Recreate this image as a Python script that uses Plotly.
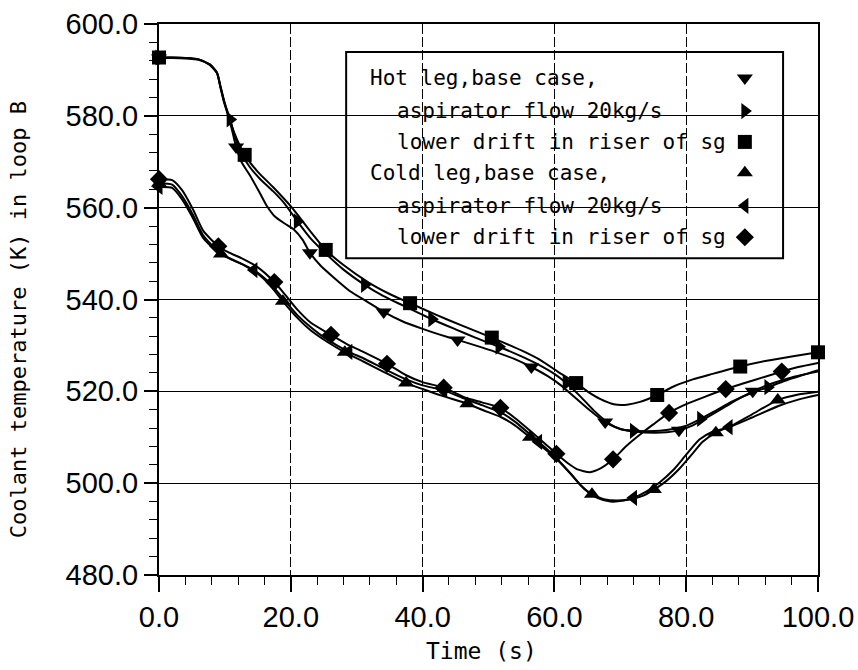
import plotly.graph_objects as go

# ---- Hot leg, base case (down triangles)
hb_t = [0, 2, 4, 6, 7.7, 8.8, 9.3, 9.9, 10.5, 11.1, 11.7, 12.5, 13.9, 15.3, 16.4, 17.5, 19, 20.5, 21.8, 22.9,
        24.5, 26.5, 29, 31.5, 34.1, 37, 40, 42.5, 45.3, 48, 51, 54, 56.5, 59, 61, 63, 65, 67.7, 70, 72.5,
        75, 77, 78.9, 81, 83.5, 86, 88, 90.1, 93, 96, 100]
hb_T = [592.6, 592.6, 592.5, 592.2, 591.1, 589.3, 586.3, 582.8, 580.0, 576.8, 573.2, 570.0, 566.8, 563.2, 560.3,
        558.2, 556.6, 555.2, 553.0, 550.2, 547.4, 544.8, 541.8, 539.6, 537.3, 535.2, 533.6, 532.4, 531.2, 530.0,
        528.6, 527.0, 525.3, 523.3, 521.3, 518.8, 516.3, 513.3, 511.8, 511.2, 511.0, 511.1, 511.5, 512.6, 514.6,
        516.7, 518.4, 520.0, 521.7, 523.0, 524.3]
hb_marks = [0, 11.7, 22.9, 34.1, 45.3, 56.5, 67.7, 78.9, 90.1]

# ---- Hot leg, aspirator flow 20 kg/s (right triangles)
ha_t = [0, 2, 4, 6, 7.7, 8.8, 9.3, 9.9, 10.8, 11.5, 12.5, 13.8, 15.3, 17.3, 19, 21.0, 23, 25.3, 28, 31.2,
        34, 37, 41.4, 45, 48, 51.6, 55, 58, 60, 61.8, 64, 66, 68.5, 70, 72.0, 74, 76, 78, 80, 82.2,
        84.5, 87, 90, 92.4, 95, 100]
ha_T = [592.7, 592.7, 592.6, 592.3, 591.2, 589.4, 586.5, 583.0, 579.2, 575.5, 571.8, 568.8, 566.3, 563.6, 561.0,
        557.0, 553.3, 550.0, 546.5, 543.2, 540.8, 538.7, 535.7, 533.5, 531.7, 529.7, 527.6, 525.5, 523.8, 521.8,
        518.8, 515.8, 512.8, 511.8, 511.4, 511.3, 511.4, 511.8, 512.5, 514.0, 515.8, 517.8, 519.7, 520.9, 522.3,
        524.6]
ha_marks = [0, 10.8, 21.0, 31.2, 41.4, 51.6, 61.8, 72.0, 82.2, 92.4]

# ---- Hot leg, lower drift in riser of sg (squares)
hl_t = [0, 2, 4, 6, 7.7, 8.8, 9.3, 9.9, 10.5, 11.5, 13.0, 15, 17.3, 20.3, 23, 25.3, 28, 31.7, 35, 38.1,
        42, 46, 50.5, 55, 58, 60.5, 63.3, 65, 67, 69, 71, 73, 75.6, 78, 81, 84, 88.2, 92, 96, 100]
hl_T = [592.7, 592.7, 592.6, 592.3, 591.2, 589.4, 586.6, 583.2, 580.3, 576.0, 571.5, 567.8, 564.5, 559.8, 554.8,
        550.8, 547.5, 543.8, 541.2, 539.2, 536.7, 534.3, 531.7, 528.9, 526.7, 524.3, 521.8, 520.0, 518.3, 517.2,
        517.1, 517.7, 519.2, 521.0, 522.6, 523.8, 525.4, 526.6, 527.6, 528.5]
hl_marks = [0, 13.0, 25.3, 38.1, 50.5, 63.3, 75.6, 88.2, 100]

# ---- Cold leg, base case (up triangles)
cb_t = [0, 2, 3.5, 5.2, 6.7, 9.4, 11, 13, 15, 16.8, 18.8, 21, 23, 25.5, 28.2, 31, 34, 37.5, 40, 43,
        46.8, 49, 52, 54, 56.3, 58.5, 60.5, 62.5, 64, 65.7, 67.5, 69.5, 71.5, 73.5, 75.1, 77, 79, 81, 82.5, 84.5,
        87, 90, 93.9, 97, 100]
cb_T = [565.3, 565.0, 562.5, 558.3, 554.0, 549.9, 548.7, 547.4, 545.6, 543.2, 539.6, 536.0, 533.3, 530.8, 528.5,
        526.5, 524.3, 521.8, 520.5, 519.0, 517.3, 516.0, 514.3, 512.6, 510.0, 507.5, 505.0, 502.0, 499.5, 497.6,
        496.5, 496.2, 496.5, 497.3, 498.6, 500.5, 503.2, 506.5, 509.0, 511.0, 512.6, 515.0, 518.1, 519.3, 519.9]
cb_marks = [0, 9.4, 18.8, 28.2, 37.5, 46.8, 56.3, 65.7, 75.1, 84.5, 93.9]

# ---- Cold leg, aspirator flow 20 kg/s (left triangles)
ca_t = [0, 2, 3.5, 5.2, 6.7, 9, 11, 14.4, 16.8, 18.8, 21, 23, 25.5, 28.8, 31, 34, 37.5, 40, 43.2, 46.5,
        49, 52, 54, 57.6, 60, 62.5, 64.5, 66.5, 68.5, 70.5, 72.0, 74, 76, 78, 80, 82, 84, 86.5, 90, 94,
        97, 100]
ca_T = [564.5, 564.3, 561.8, 557.6, 553.4, 550.2, 548.8, 546.4, 543.6, 540.3, 536.6, 534.0, 531.3, 528.6, 527.2,
        525.0, 522.6, 521.3, 520.2, 518.3, 517.0, 515.3, 513.4, 509.0, 505.9, 502.0, 498.8, 496.8, 496.0, 496.2,
        496.8, 498.2, 500.2, 502.8, 506.2, 509.5, 511.2, 512.2, 514.3, 516.8, 518.2, 519.2]
ca_marks = [0, 14.4, 28.8, 43.2, 57.6, 72.0, 86.5]

# ---- Cold leg, lower drift in riser of sg (diamonds)
cl_t = [0, 2, 3.5, 5.2, 6.7, 9.0, 10.5, 12.5, 15, 17.5, 19, 21, 23, 26.1, 28.5, 31, 34.6, 37.5, 40, 43.2,
        46.5, 49, 51.8, 54, 56.5, 58.5, 60.3, 62, 63.5, 65.4, 67, 68.9, 71, 73, 75, 77.4, 80, 83, 86.0, 90,
        94.5, 97, 100]
cl_T = [566.2, 566.0, 563.8, 559.5, 555.0, 551.6, 550.3, 549.0, 547.0, 543.8, 541.3, 537.8, 535.0, 532.3, 530.3,
        528.6, 526.0, 523.5, 522.0, 520.8, 518.6, 517.6, 516.4, 514.2, 511.2, 508.7, 506.4, 504.4, 503.0, 502.4,
        503.2, 505.2, 508.2, 510.6, 512.8, 515.3, 517.2, 518.9, 520.5, 522.3, 524.3, 525.3, 526.2]
cl_marks = [0, 9.0, 17.5, 26.1, 34.6, 43.2, 51.8, 60.3, 68.9, 77.4, 86.0, 94.5]

legend_lines = [
    ("Hot leg,base case,", False),
    ("aspirator flow 20kg/s", True),
    ("lower drift in riser of sg", True),
    ("Cold leg,base case,", False),
    ("aspirator flow 20kg/s", True),
    ("lower drift in riser of sg", True),
]

series = [
    (hb_t, hb_T, hb_marks, "triangle-down"),
    (ha_t, ha_T, ha_marks, "triangle-right"),
    (hl_t, hl_T, hl_marks, "square"),
    (cb_t, cb_T, cb_marks, "triangle-up"),
    (ca_t, ca_T, ca_marks, "triangle-left"),
    (cl_t, cl_T, cl_marks, "diamond"),
]

x_ticks = [0, 20, 40, 60, 80, 100]
y_ticks = [480, 500, 520, 540, 560, 580, 600]

TICK_FONT = dict(family="'Liberation Sans', Arial, sans-serif", size=29, color="black")
TEXT_FONT = "'DejaVu Sans Mono', monospace"

fig = go.Figure()

for t, T, marks, sym in series:
    fig.add_trace(go.Scatter(
        x=t, y=T, mode="lines", line=dict(color="black", width=2, shape="spline", smoothing=0.6),
        hoverinfo="skip", showlegend=False))
    mx = [ti for ti in t if ti in marks]
    my = [Ti for ti, Ti in zip(t, T) if ti in marks]
    fig.add_trace(go.Scatter(
        x=mx, y=my, mode="markers", cliponaxis=False,
        marker=dict(symbol=sym, size=14, color="black", line=dict(width=0)),
        showlegend=False))

# legend box: symbols on a hidden overlay axis pair spanning 0..1
leg_row_y = [0.902, 0.842, 0.786, 0.730, 0.670, 0.613]
fig.add_trace(go.Scatter(
    x=[0.889] * 6, y=leg_row_y, mode="markers", xaxis="x2", yaxis="y2",
    marker=dict(symbol=[s[3] for s in series], size=14, color="black"),
    showlegend=False, hoverinfo="skip"))

for (label, indent), yy in zip(legend_lines, leg_row_y):
    fig.add_annotation(
        xref="paper", yref="paper", x=0.358 if indent else 0.317, y=yy,
        text=label, showarrow=False, xanchor="left", yanchor="middle",
        font=dict(family=TEXT_FONT, size=21, color="black"))

fig.add_shape(type="rect", xref="paper", yref="paper", x0=0.284, x1=0.947, y0=0.575, y1=0.949,
              line=dict(color="black", width=2), fillcolor="white", layer="between")

fig.add_annotation(xref="paper", yref="paper", x=-0.212, y=0.463, text="Coolant temperature (K) in loop B",
                   textangle=-90, showarrow=False, xanchor="center", yanchor="middle",
                   font=dict(family=TEXT_FONT, size=22, color="black"))
fig.add_annotation(xref="paper", yref="paper", x=0.49, y=-0.138, text="Time (s)",
                   showarrow=False, xanchor="center", yanchor="middle",
                   font=dict(family=TEXT_FONT, size=23, color="black"))

fig.update_layout(
    width=858, height=670,
    margin=dict(l=159, r=40, t=24, b=95, autoexpand=False),
    plot_bgcolor="white", paper_bgcolor="white",
    xaxis=dict(range=[0, 100], tickvals=x_ticks, ticktext=[f"{v:.1f}" for v in x_ticks],
               automargin=False,
               showgrid=True, gridcolor="black", gridwidth=1, griddash="10px,3px",
               showline=True, linecolor="black", linewidth=2, mirror=True,
               ticks="outside", ticklen=15, tickwidth=2, tickcolor="black",
               minor=dict(dtick=4, ticks="outside", ticklen=8, tickwidth=1, tickcolor="black", showgrid=False),
               tickfont=TICK_FONT, zeroline=False),
    yaxis=dict(range=[480, 600], tickvals=y_ticks, ticktext=[f"{v:.1f}" for v in y_ticks],
               automargin=False,
               showgrid=True, gridcolor="black", gridwidth=1,
               showline=True, linecolor="black", linewidth=2, mirror=True,
               ticks="outside", ticklen=13, tickwidth=2, tickcolor="black",
               minor=dict(dtick=4, ticks="outside", ticklen=8, tickwidth=1, tickcolor="black", showgrid=False),
               tickfont=TICK_FONT, zeroline=False),
    xaxis2=dict(range=[0, 1], overlaying="x", visible=False),
    yaxis2=dict(range=[0, 1], overlaying="y", visible=False),
)

fig.write_html("out.html")
